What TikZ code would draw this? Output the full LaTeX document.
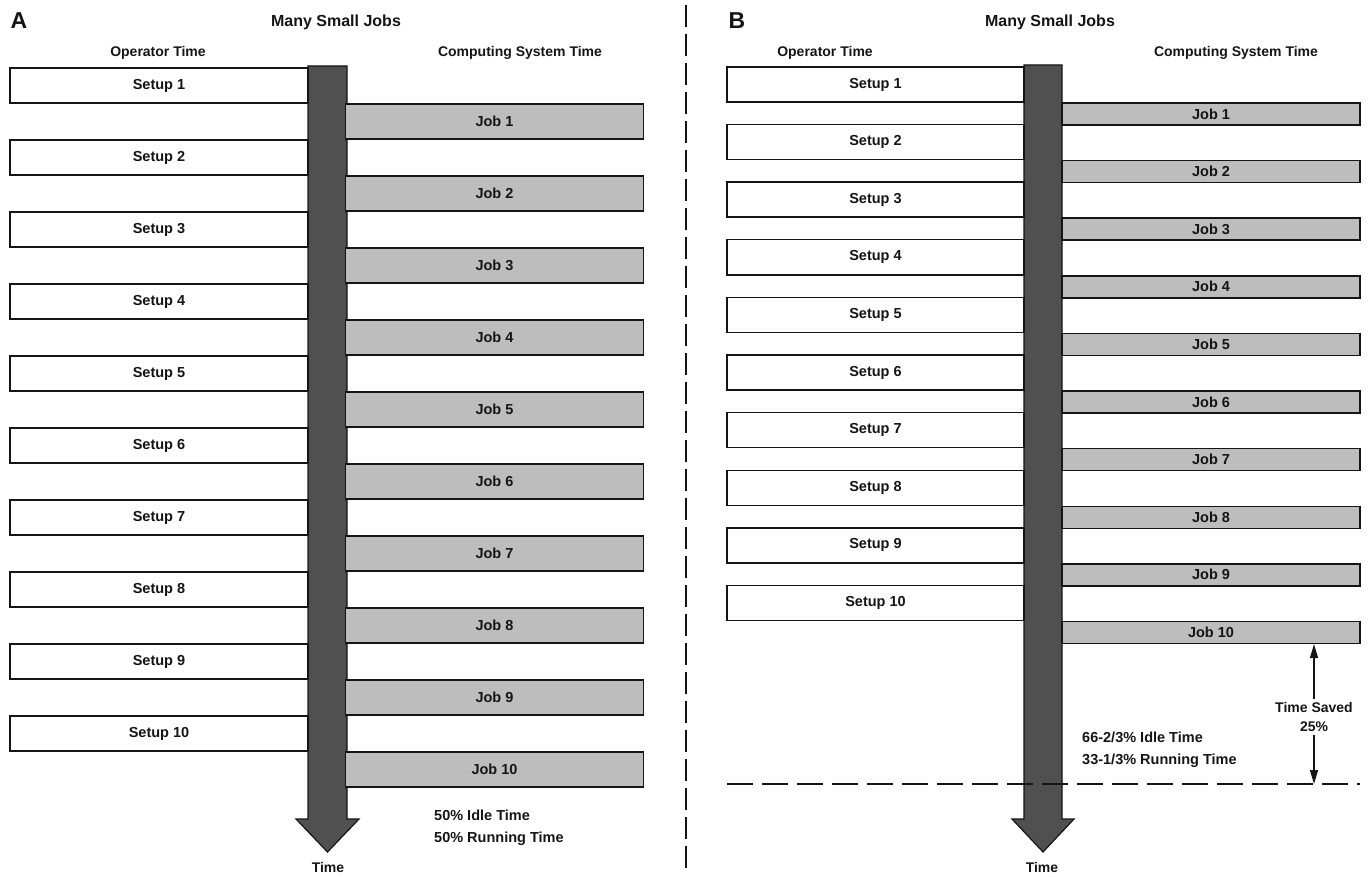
\documentclass[tikz,border=0pt]{standalone}
\usepackage{fontspec}
\setmainfont{Liberation Sans}
\usetikzlibrary{arrows.meta,positioning}
\definecolor{ink}{HTML}{151515}
\definecolor{jobfill}{HTML}{BDBDBD}
\definecolor{shaftfill}{HTML}{505050}
\newcommand{\boxfont}{\fontsize{14.5}{16}\selectfont\bfseries}
\newcommand{\headfont}{\fontsize{14}{16}\selectfont\bfseries}
\tikzset{
 every node/.append style={text=ink,align=center},
 setupbox/.style={draw=ink,fill=white,line width=1.4pt,minimum width=298pt,minimum height=35pt,inner sep=0pt,font=\boxfont},
 jobbox/.style={setupbox,fill=jobfill},
 jobthin/.style={jobbox,minimum height=22pt},
 title/.style={font=\fontsize{16}{18}\selectfont\bfseries,inner sep=1pt},
 panel/.style={font=\fontsize{23}{26}\selectfont\bfseries,inner sep=1pt},
 colhead/.style={font=\headfont,inner sep=1pt},
 word/.style={font=\boxfont,align=left,inner sep=0pt},
 timearrow/.style={draw=ink,fill=shaftfill,line width=1.2pt,line join=miter},
 divider/.style={draw=ink,line width=1.3pt,dash pattern=on 22pt off 7pt},
 floorline/.style={draw=ink,line width=1.3pt,dash pattern=on 26pt off 9pt},
 saved/.style={-{Triangle[length=14pt,width=8pt]},draw=ink,line width=1.4pt},
}

\begin{document}
\begin{tikzpicture}[x=1pt,y=-1pt]
\useasboundingbox (0,0) rectangle (1372,877);

% panel A: one setup, then one job
\node[panel] (labA) at (19,21) {A};
\node[title] (titleA) at (336,22) {Many Small Jobs};
\node[colhead] (opA) at (158,53) {Operator Time};
\node[colhead] (csA) at (520,53) {Computing System Time};

\draw[timearrow] (308,66) -- (347,66) -- (347,819) -- (359,819)
  -- (327.5,852) -- (296,819) -- (308,819) -- cycle;
\node[colhead] (timeA) at (328,867) {Time};

\foreach \n in {1,...,10}{
  \node[setupbox] (sa\n) at (159,{85.5+(\n-1)*72}) {Setup \n};
  \node[jobbox] (ja\n) at (494.5,{121.5+(\n-1)*72}) {Job \n};
}

\node[word,anchor=north west] (statA) at (434,810) {50\% Idle Time\\[6pt]50\% Running Time};

% dashed divider between the panels
\coordinate (divtop) at (686,5);
\coordinate (divbot) at (686,872);
\draw[divider] (divtop) -- (divbot);

% panel B: next setup overlaps the job
\node[panel] (labB) at (737,21) {B};
\node[title] (titleB) at (1050,22) {Many Small Jobs};
\node[colhead] (opB) at (825,53) {Operator Time};
\node[colhead] (csB) at (1236,53) {Computing System Time};

\draw[timearrow] (1024,65) -- (1062,65) -- (1062,819) -- (1074,819)
  -- (1043,852) -- (1012,819) -- (1024,819) -- cycle;
\node[colhead] (timeB) at (1042,867) {Time};

\foreach \n in {1,...,10}{
  \node[setupbox,minimum width=297pt] (sb\n) at (875.5,{84.5+(\n-1)*57.6}) {Setup \n};
  \node[jobthin] (jb\n) at (1211,{114+(\n-1)*57.6}) {Job \n};
}

\coordinate (floorL) at (727,784);
\coordinate (floorR) at (1360,784);
\draw[floorline] (floorL) -- (floorR);

\node[word,anchor=north west] (statB) at (1082,732) {66-2/3\% Idle Time\\[6pt]33-1/3\% Running Time};

\node[colhead,inner sep=3pt] (gain) at (1314,717) {Time Saved\\[3pt]25\%};
\draw[saved] (gain.north) -- (gain.north |- jb10.south);
\draw[saved] (gain.south) -- (gain.south |- floorL);

\end{tikzpicture}
\end{document}
